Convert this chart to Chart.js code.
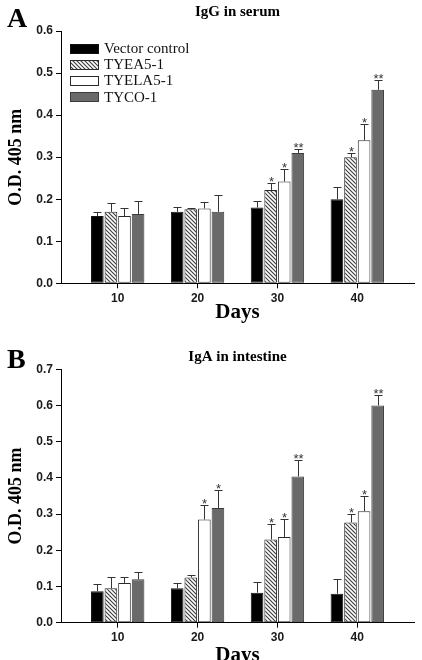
<!DOCTYPE html>
<html>
<head>
<meta charset="utf-8">
<script src="https://cdn.jsdelivr.net/npm/chart.js@4.4.1/dist/chart.umd.min.js"></script>
<style>
  html, body { margin: 0; padding: 0; background: #fff; width: 422px; height: 660px; overflow: hidden; }
  canvas { position: absolute; left: 0; }
  #cA { top: 0; }
  #cB { top: 330px; }
</style>
</head>
<body>
<canvas id="cA" width="422" height="330"></canvas>
<canvas id="cB" width="422" height="350"></canvas>
<script>
// ---- data ----
const days = [10, 20, 30, 40];
const seriesNames = ['Vector control', 'TYEA5-1', 'TYELA5-1', 'TYCO-1'];

// Panel A: IgG in serum
const iggVector = [0.16, 0.17, 0.18, 0.20];
const iggTYEA = [0.17, 0.176, 0.222, 0.30];
const iggTYELA = [0.16, 0.178, 0.242, 0.34];
const iggTYCO = [0.165, 0.17, 0.31, 0.46];
const iggVectorErr = [0.01, 0.012, 0.016, 0.03];
const iggTYEAErr = [0.022, 0.004, 0.016, 0.01];
const iggTYELAErr = [0.02, 0.016, 0.029, 0.04];
const iggTYCOErr = [0.03, 0.04, 0.01, 0.024];
const iggVectorSig = ['', '', '', ''];
const iggTYEASig = ['', '', '*', '*'];
const iggTYELASig = ['', '', '*', '*'];
const iggTYCOSig = ['', '', '**', '**'];
const iggTicks = [0.0, 0.1, 0.2, 0.3, 0.4, 0.5, 0.6];

// Panel B: IgA in intestine
const igaVector = [0.087, 0.095, 0.083, 0.08];
const igaTYEA = [0.095, 0.125, 0.23, 0.277];
const igaTYELA = [0.11, 0.285, 0.237, 0.308];
const igaTYCO = [0.12, 0.317, 0.404, 0.60];
const igaVectorErr = [0.02, 0.016, 0.03, 0.04];
const igaTYEAErr = [0.03, 0.007, 0.044, 0.024];
const igaTYELAErr = [0.017, 0.04, 0.05, 0.042];
const igaTYCOErr = [0.02, 0.05, 0.045, 0.03];
const igaVectorSig = ['', '', '', ''];
const igaTYEASig = ['', '', '*', '*'];
const igaTYELASig = ['', '*', '*', '*'];
const igaTYCOSig = ['', '*', '**', '**'];
const igaTicks = [0.0, 0.1, 0.2, 0.3, 0.4, 0.5, 0.6, 0.7];

// ---- styles ----
const SERIF = '"Liberation Serif", "Times New Roman", serif';
const SANS = '"Liberation Sans", Arial, sans-serif';

function hatchPattern() {
  const c = document.createElement('canvas');
  c.width = 4; c.height = 4;
  const g = c.getContext('2d');
  g.fillStyle = '#fff';
  g.fillRect(0, 0, 4, 4);
  g.strokeStyle = '#3a3a3a';
  g.lineWidth = 1.1;
  g.beginPath();
  g.moveTo(-1, -1); g.lineTo(5, 5);
  g.moveTo(-1, 3); g.lineTo(1, 5);
  g.moveTo(3, -1); g.lineTo(5, 1);
  g.stroke();
  return g.createPattern(c, 'repeat');
}
const fills = ['#000000', null, '#ffffff', '#6a6a6a'];
const borders = ['#111111', '#2a2a2a', '#2a2a2a', '#3c3c3c'];

function makeDatasets(valsList, errList, sigList) {
  const pat = hatchPattern();
  return valsList.map((vals, k) => ({
    label: seriesNames[k],
    data: days.map((d, i) => ({ x: d, y: vals[i] })),
    errors: errList[k],
    sig: sigList[k],
    backgroundColor: k === 1 ? pat : fills[k],
    borderColor: borders[k],
    borderWidth: 1,
    borderSkipped: false,
    categoryPercentage: 0.68,
    barPercentage: 0.93
  }));
}

const errorBarPlugin = {
  id: 'errorBars',
  afterDatasetsDraw(chart) {
    const ctx = chart.ctx;
    const yS = chart.scales.y;
    ctx.save();
    chart.data.datasets.forEach((ds, i) => {
      const meta = chart.getDatasetMeta(i);
      meta.data.forEach((bar, j) => {
        const v = ds.data[j].y;
        const e = ds.errors[j];
        const x = Math.round(bar.x) + 0.5;
        const y0 = bar.y;
        const y1 = Math.round(yS.getPixelForValue(v + e)) + 0.5;
        ctx.strokeStyle = '#333';
        ctx.lineWidth = 1;
        ctx.beginPath();
        ctx.moveTo(x, y0);
        ctx.lineTo(x, y1);
        ctx.moveTo(x - 4, y1);
        ctx.lineTo(x + 4, y1);
        ctx.stroke();
        const s = ds.sig[j];
        if (s) {
          ctx.fillStyle = '#333';
          ctx.font = '13px ' + SANS;
          ctx.textAlign = 'center';
          ctx.textBaseline = 'alphabetic';
          ctx.fillText(s, x, y1 + 2.5);
        }
      });
    });
    ctx.restore();
  }
};

const panelPlugin = {
  id: 'panelDecor',
  afterDraw(chart, args, opts) {
    const ctx = chart.ctx;
    ctx.save();
    ctx.fillStyle = '#000';
    ctx.font = 'bold 28px ' + SERIF;
    ctx.textAlign = 'left';
    ctx.textBaseline = 'alphabetic';
    ctx.fillText(opts.letter, 7, opts.letterY);
    if (opts.legend) {
      const ca = chart.chartArea;
      chart.data.datasets.forEach((ds, k) => {
        const cy = ca.top + 17 + k * 16.2;
        const bx = ca.left + 9.5;
        ctx.fillStyle = ds.backgroundColor;
        ctx.fillRect(bx, Math.round(cy - 4.5) + 0.5, 28, 9);
        ctx.strokeStyle = ds.borderColor;
        ctx.lineWidth = 1;
        ctx.strokeRect(bx, Math.round(cy - 4.5) + 0.5, 28, 9);
        ctx.fillStyle = '#111';
        ctx.font = '15px ' + SERIF;
        ctx.textBaseline = 'middle';
        ctx.fillText(ds.label, ca.left + 43, cy + 1);
      });
    }
    ctx.restore();
  }
};

function makeChart(id, opts) {
  return new Chart(document.getElementById(id), {
    type: 'bar',
    data: { datasets: makeDatasets(opts.vals, opts.errs, opts.sigs) },
    plugins: [errorBarPlugin, panelPlugin],
    options: {
      responsive: false,
      animation: false,
      layout: { padding: { top: 0, left: 0, right: 8, bottom: 0 } },
      plugins: {
        legend: { display: false },
        tooltip: { enabled: false },
        title: {
          display: true,
          text: opts.title,
          fullSize: false,
          color: '#000',
          font: { family: SERIF, size: 15, weight: 'bold', lineHeight: 1.2 },
          padding: { top: opts.titlePadTop, bottom: opts.titlePadBottom }
        },
        panelDecor: { letter: opts.letter, letterY: opts.letterY, legend: opts.legend }
      },
      scales: {
        x: {
          type: 'linear',
          offset: false,
          min: 2.9,
          max: 47.1,
          afterBuildTicks(scale) { scale.ticks = days.map(d => ({ value: d })); },
          afterFit(scale) { scale.height = opts.xHeight; },
          ticks: {
            color: '#1a1a1a',
            padding: 3,
            font: { family: SANS, size: 12, weight: 'bold' },
            callback: v => String(v)
          },
          grid: { display: true, offset: false, drawOnChartArea: false, drawTicks: true, tickLength: 5, color: '#000', lineWidth: 1 },
          border: { display: true, color: '#000', width: 1 },
          title: {
            display: true,
            text: 'Days',
            color: '#000',
            font: { family: SERIF, size: 21, weight: 'bold', lineHeight: 1.2 },
            padding: { top: 0, bottom: opts.xTitlePad }
          }
        },
        y: {
          min: 0,
          max: opts.ymax,
          afterBuildTicks(scale) { scale.ticks = opts.ticks.map(v => ({ value: v })); },
          afterFit(scale) { scale.width = 61; },
          ticks: {
            color: '#1a1a1a',
            padding: 3,
            font: { family: SANS, size: 12, weight: 'bold' },
            callback: v => Number(v).toFixed(1)
          },
          grid: { display: true, drawOnChartArea: false, drawTicks: true, tickLength: 5, color: '#000', lineWidth: 1 },
          border: { display: true, color: '#000', width: 1 },
          title: {
            display: true,
            text: 'O.D. 405 nm',
            color: '#000',
            font: { family: SERIF, size: 18, weight: 'bold', lineHeight: 1.2 },
            padding: { top: 5.4, bottom: 0 }
          }
        }
      }
    }
  });
}

makeChart('cA', {
  vals: [iggVector, iggTYEA, iggTYELA, iggTYCO],
  errs: [iggVectorErr, iggTYEAErr, iggTYELAErr, iggTYCOErr],
  sigs: [iggVectorSig, iggTYEASig, iggTYELASig, iggTYCOSig],
  ticks: iggTicks,
  ymax: 0.6,
  title: 'IgG in serum',
  titlePadTop: 3.2,
  titlePadBottom: 9.8,
  xHeight: 46.7,
  xTitlePad: 4.5,
  letter: 'A',
  letterY: 27,
  legend: true
});

makeChart('cB', {
  vals: [igaVector, igaTYEA, igaTYELA, igaTYCO],
  errs: [igaVectorErr, igaTYEAErr, igaTYELAErr, igaTYCOErr],
  sigs: [igaVectorSig, igaTYEASig, igaTYELASig, igaTYCOSig],
  ticks: igaTicks,
  ymax: 0.7,
  title: 'IgA in intestine',
  titlePadTop: 18.6,
  titlePadBottom: 2.7,
  xHeight: 57.3,
  xTitlePad: 12.2,
  letter: 'B',
  letterY: 38,
  legend: false
});
</script>
</body>
</html>
